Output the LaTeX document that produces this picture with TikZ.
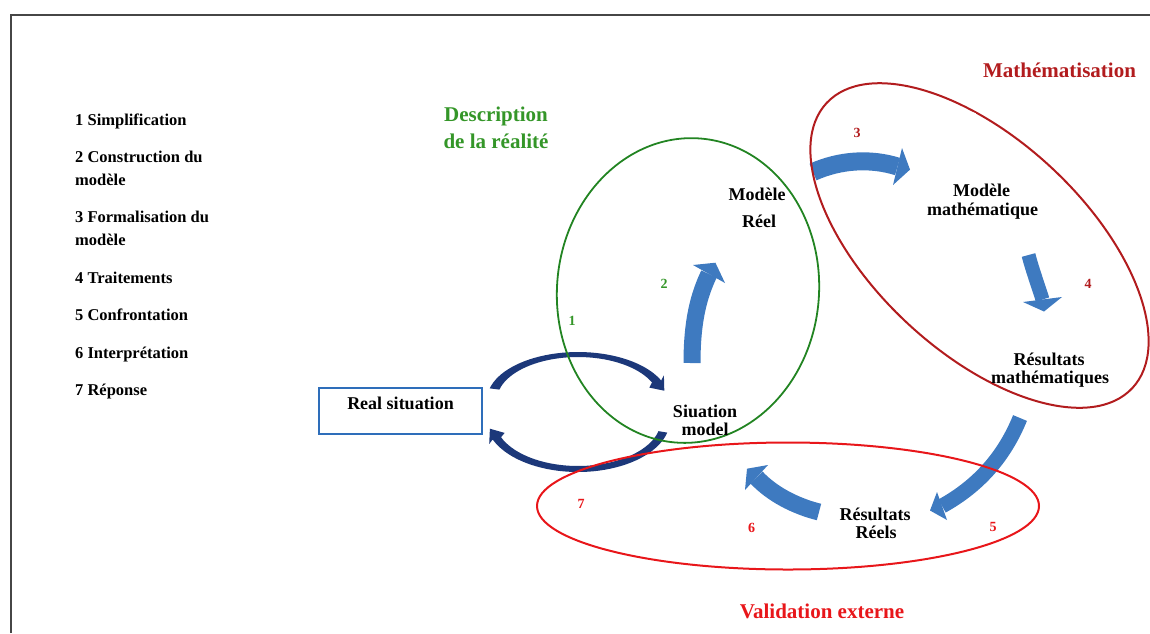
\documentclass[tikz,border=0pt]{standalone}
\usepackage{fontspec}
\setmainfont{Liberation Serif}
\definecolor{framegray}{RGB}{70,70,70}
\definecolor{boxblue}{RGB}{46,110,186}
\definecolor{arrowblue}{RGB}{62,122,192}
\definecolor{navyarrow}{RGB}{28,56,122}
\definecolor{greenline}{RGB}{34,132,34}
\definecolor{greentext}{RGB}{52,150,40}
\definecolor{darkred}{RGB}{178,28,30}
\definecolor{brightred}{RGB}{232,22,26}
\begin{document}
\begin{tikzpicture}[x=1pt,y=-1pt,
  legend/.style={anchor=base west, inner sep=0pt, font=\fontsize{16.5}{16.5}\selectfont\bfseries},
  lbl/.style={anchor=base, inner sep=0pt, font=\fontsize{18}{18}\selectfont\bfseries},
  ttl/.style={anchor=base, inner sep=0pt, font=\fontsize{21}{21}\selectfont\bfseries},
  num/.style={anchor=base, inner sep=0pt, font=\fontsize{14}{14}\selectfont\bfseries},
  shaft/.style={draw=arrowblue, line width=#1},
  blockhead/.style={fill=arrowblue},
  navyfill/.style={fill=navyarrow}]
\useasboundingbox (0,0) rectangle (1150,633);
% frame
\draw[framegray, line width=2.4pt] (11,633) -- (11,15) -- (1150,15);

% legend
\node[legend] (l1) at (75,125) {1 Simplification};
\node[legend] (l2a) at (75,162) {2 Construction du};
\node[legend] (l2b) at (75,185) {modèle};
\node[legend] (l3a) at (75,222) {3 Formalisation du};
\node[legend] (l3b) at (75,245) {modèle};
\node[legend] (l4) at (75,283) {4 Traitements};
\node[legend] (l5) at (75,320) {5 Confrontation};
\node[legend] (l6) at (75,358) {6 Interprétation};
\node[legend] (l7) at (75,395) {7 Réponse};

% navy curved arrows
\path[navyfill] plot[domain=166:24,samples=40] ({578+91*cos(\x)},{400-48*sin(\x)})
  -- (663.9,375.4) -- (664.3,390.7) -- (649.3,387.6)
  -- plot[domain=24:166,samples=40] ({578+81*cos(\x)},{400-43*sin(\x)}) -- cycle;
\path[navyfill] plot[domain=-14:-158,samples=40] ({578+92*cos(\x)},{420-52*sin(\x)})
  -- (489.2,443.9) -- (489.9,428.7) -- (504.6,432.9)
  -- plot[domain=-158:-14,samples=40] ({578+83*cos(\x)},{420-46*sin(\x)}) -- cycle;

% blue block arrows
\draw[shaft=17pt] (692,363) .. controls (692,320) and (699,295) .. (709,274);
\fill[blockhead] (693,265) -- (715.4,262.7) -- (725,283) -- cycle;
\draw[shaft=18pt] (813,172) .. controls (840,160) and (870,158) .. (897.5,166.5);
\fill[blockhead] (902,148) -- (910,169.6) -- (893,185) -- cycle;
\draw[shaft=14pt] (1028.5,255) .. controls (1033,272) and (1038,285) .. (1042.5,299.5);
\fill[blockhead] (1023,302) -- (1044,311.5) -- (1062,297) -- cycle;
\draw[shaft=15pt] (1020,418) .. controls (1005,455) and (980,485) .. (942,506);
\fill[blockhead] (937,492) -- (930,510.5) -- (947,520) -- cycle;
\draw[shaft=17pt] (819,512) .. controls (795,506) and (772,494) .. (756.5,477.5);
\fill[blockhead] (768,465) -- (747,468.7) -- (745,490) -- cycle;

% ellipses
\draw[greenline, line width=1.8pt, rotate around={-5:(688,290.5)}] (688,290.5) ellipse [x radius=131pt, y radius=152.5pt];
\draw[darkred, line width=2pt, rotate around={-43:(979.5,245.5)}] (979.5,245.5) ellipse [x radius=209pt, y radius=106pt];
\fill[white] (972.5,116.5) circle [radius=4.5pt];
\draw[brightred, line width=2pt] (788,506) ellipse [x radius=251pt, y radius=63.5pt];

% real situation box
\node[draw=boxblue, line width=2.2pt, minimum width=163pt, minimum height=46pt, inner sep=0pt] (realbox) at (400.5,411) {};
\node[lbl] (realtext) at (400.5,409) {Real situation};

% titles
\node[ttl, text=greentext] (desc1) at (496,121) {Description};
\node[ttl, text=greentext] (desc2) at (496,148) {de la réalité};
\node[ttl, text=darkred] (math) at (1059.5,77) {Mathématisation};
\node[ttl, text=brightred] (valid) at (822,618) {Validation externe};

% labels
\node[lbl] (mr1) at (757,200) {Modèle};
\node[lbl] (mr2) at (759,227) {Réel};
\node[lbl] (sm1) at (705,417) {Siuation};
\node[lbl] (sm2) at (705,435) {model};
\node[lbl] (mm1) at (981.5,196) {Modèle};
\node[lbl] (mm2) at (982.5,215) {mathématique};
\node[lbl] (rm1) at (1049,365) {Résultats};
\node[lbl] (rm2) at (1050,383) {mathématiques};
\node[lbl] (rr1) at (875,520) {Résultats};
\node[lbl] (rr2) at (876,538) {Réels};

% numbers
\node[num, text=greentext] (n1) at (572,325) {1};
\node[num, text=greentext] (n2) at (664,288) {2};
\node[num, text=darkred] (n3) at (857,137) {3};
\node[num, text=darkred] (n4) at (1088,288) {4};
\node[num, text=brightred] (n5) at (993,531) {5};
\node[num, text=brightred] (n6) at (751.5,532) {6};
\node[num, text=brightred] (n7) at (581,508) {7};
\end{tikzpicture}
\end{document}
